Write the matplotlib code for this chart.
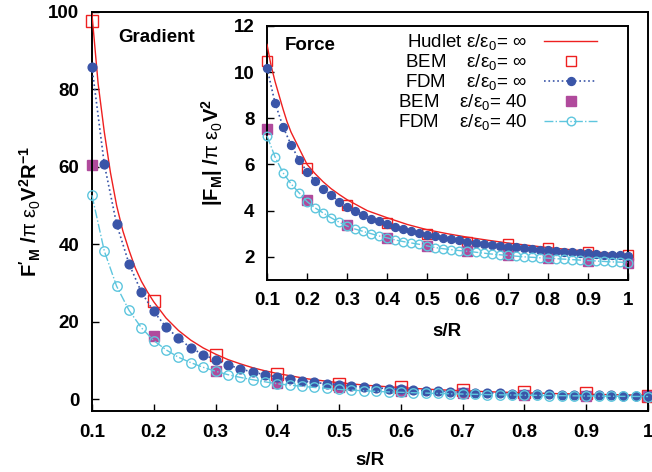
import matplotlib
matplotlib.use("Agg")
import matplotlib.pyplot as plt

plt.rcParams['font.family'] = ['Liberation Sans', 'DejaVu Sans']
plt.rcParams['mathtext.fontset'] = 'custom'
plt.rcParams['mathtext.rm'] = 'Liberation Sans'
plt.rcParams['mathtext.it'] = 'Liberation Sans'
plt.rcParams['mathtext.bf'] = 'Liberation Sans:bold'

# --- data ---
# FDM grid (s/R)
s_fdm = [0.10, 0.12, 0.14, 0.16, 0.18, 0.20, 0.22, 0.24, 0.26, 0.28,
         0.30, 0.32, 0.34, 0.36, 0.38, 0.40, 0.42, 0.44, 0.46, 0.48,
         0.50, 0.52, 0.54, 0.56, 0.58, 0.60, 0.62, 0.64, 0.66, 0.68,
         0.70, 0.72, 0.74, 0.76, 0.78, 0.80, 0.82, 0.84, 0.86, 0.88,
         0.90, 0.92, 0.94, 0.96, 0.98, 1.00]
# BEM grid
s_bem = [0.1, 0.2, 0.3, 0.4, 0.5, 0.6, 0.7, 0.8, 0.9, 1.0]

# Gradient (main panel)
s_hud_grad = [0.10, 0.11, 0.12, 0.13, 0.14, 0.15, 0.16, 0.17, 0.18, 0.19,
              0.20, 0.22, 0.24, 0.26, 0.28, 0.30, 0.32, 0.34, 0.36, 0.38,
              0.40, 0.45, 0.50, 0.55, 0.60, 0.65, 0.70, 0.75, 0.80, 0.85,
              0.90, 0.95, 1.00]
hud_grad = [99.5, 81.5, 69.0, 58.5, 50.0, 43.5, 38.5, 34.0, 30.5, 27.7,
            25.2, 21.0, 17.8, 15.3, 13.3, 11.7, 10.3, 9.2, 8.2, 7.4,
            6.7, 5.3, 4.3, 3.6, 3.05, 2.6, 2.25, 1.95, 1.72, 1.52,
            1.36, 1.22, 1.1]
bem_inf_grad = [97.5, 25.4, 11.6, 6.5, 4.1, 3.2, 2.5, 2.0, 1.6, 1.0]
fdm_inf_grad = [85.8, 60.7, 45.2, 35.0, 27.7, 22.7, 18.7, 15.8, 13.3, 11.6,
                10.2, 8.95, 7.9, 7.05, 6.4, 5.8, 5.2, 4.8, 4.4, 4.05,
                3.8, 3.5, 3.25, 3.0, 2.8, 2.6, 2.45, 2.3, 2.15, 2.0,
                1.9, 1.8, 1.7, 1.6, 1.52, 1.45, 1.38, 1.32, 1.26, 1.2,
                1.15, 1.1, 1.05, 1.0, 0.97, 0.93]
bem_40_grad = [60.6, 16.3, 7.4, 4.3, 3.1, 2.2, 1.6, 1.25, 1.0, 0.8]
fdm_40_grad = [52.7, 38.3, 29.2, 23.0, 18.5, 15.2, 12.8, 10.9, 9.5, 8.3,
               7.3, 6.4, 5.7, 5.1, 4.55, 4.05, 3.7, 3.4, 3.1, 2.85,
               2.6, 2.4, 2.25, 2.1, 1.95, 1.85, 1.75, 1.65, 1.55, 1.47,
               1.4, 1.33, 1.27, 1.21, 1.16, 1.11, 1.06, 1.02, 0.98, 0.94,
               0.9, 0.87, 0.84, 0.81, 0.78, 0.75]

# Force (inset)
s_hud_force = [0.10, 0.11, 0.12, 0.13, 0.14, 0.15, 0.16, 0.18, 0.20, 0.22,
               0.24, 0.26, 0.28, 0.30, 0.35, 0.40, 0.45, 0.50, 0.55, 0.60,
               0.65, 0.70, 0.75, 0.80, 0.85, 0.90, 0.95, 1.00]
hud_force = [11.2, 10.3, 9.6, 9.0, 8.4, 7.85, 7.4, 6.7, 6.0, 5.6,
             5.25, 4.95, 4.7, 4.47, 4.0, 3.69, 3.4, 3.17, 3.0, 2.85,
             2.72, 2.6, 2.5, 2.4, 2.32, 2.24, 2.16, 2.1]
bem_inf_force = [10.5, 5.85, 4.25, 3.45, 3.0, 2.65, 2.55, 2.4, 2.2, 2.1]
fdm_inf_force = [10.18, 8.67, 7.63, 6.85, 6.2, 5.68, 5.29, 4.95, 4.68, 4.38,
                 4.16, 3.99, 3.82, 3.65, 3.55, 3.43, 3.3, 3.2, 3.12, 3.04,
                 2.95, 2.88, 2.82, 2.76, 2.71, 2.66, 2.61, 2.56, 2.52, 2.48,
                 2.44, 2.41, 2.37, 2.34, 2.31, 2.28, 2.25, 2.22, 2.2, 2.17,
                 2.15, 2.12, 2.1, 2.08, 2.06, 2.04]
bem_40_force = [7.54, 4.45, 3.38, 2.82, 2.47, 2.27, 2.09, 1.96, 1.84, 1.75]
fdm_40_force = [7.24, 6.33, 5.64, 5.16, 4.77, 4.39, 4.12, 3.9, 3.69, 3.5,
                3.33, 3.2, 3.1, 3.0, 2.9, 2.82, 2.73, 2.66, 2.6, 2.54,
                2.47, 2.4, 2.35, 2.31, 2.27, 2.24, 2.2, 2.16, 2.12, 2.09,
                2.06, 2.03, 2.0, 1.98, 1.96, 1.94, 1.92, 1.9, 1.88, 1.86,
                1.84, 1.82, 1.8, 1.78, 1.77, 1.75]

xticks = [0.1, 0.2, 0.3, 0.4, 0.5, 0.6, 0.7, 0.8, 0.9, 1.0]
xticklabels = ['0.1', '0.2', '0.3', '0.4', '0.5', '0.6', '0.7', '0.8', '0.9', '1']

red = '#ee2020'
blue = '#3a55a8'
purple = '#b04a9c'
cyan = '#5ec6de'


def draw(ax, s_h, hud, bem_inf, fdm_inf, bem_40, fdm_40, ms):
    ax.plot(s_h, hud, '-', color=red, lw=1.0, zorder=3,
            label='Hudlet ε/ε$_0$= ∞')
    ax.plot(s_bem, bem_inf, 's', mfc='none', mec=red, mew=1.0, ms=ms + 2,
            zorder=2, clip_on=False, label='BEM    ε/ε$_0$= ∞')
    ax.plot(s_fdm, fdm_inf, ':', color=blue, lw=1.2, marker='o', ms=ms,
            mfc=blue, mec=blue, zorder=4, clip_on=False,
            label='FDM    ε/ε$_0$= ∞')
    ax.plot(s_bem, bem_40, 's', color=purple, ms=ms + 1, zorder=2,
            clip_on=False, label='BEM    ε/ε$_0$= 40')
    ax.plot(s_fdm, fdm_40, '-.', color=cyan, lw=1.0, marker='o', ms=ms + 0.5,
            mfc='none', mec=cyan, mew=1.0, zorder=5, clip_on=False,
            label='FDM    ε/ε$_0$= 40')
    ax.set_xlim(0.1, 1.0)
    ax.set_xticks(xticks)
    ax.set_xticklabels(xticklabels)
    ax.tick_params(direction='in', length=5, width=1, labelsize=13.5, pad=9,
                   top=False, right=False)
    for lab in ax.get_xticklabels() + ax.get_yticklabels():
        lab.set_fontweight('bold')
    for sp in ax.spines.values():
        sp.set_linewidth(1.4)


fig = plt.figure(figsize=(6.52, 4.72), dpi=100)

ax = fig.add_axes([0.141, 0.129, 0.853, 0.846])
draw(ax, s_hud_grad, hud_grad, bem_inf_grad, fdm_inf_grad, bem_40_grad, fdm_40_grad, 6.3)
ax.set_ylim(-3, 100)
ax.set_yticks([0, 20, 40, 60, 80, 100])
ax.set_xlabel('s/R', fontsize=13.5, fontweight='bold', labelpad=8)
ax.set_ylabel(r"$\mathbf{F'_M}$ $\mathbf{/}\pi$ $\epsilon_0\mathbf{V^2R^{-1}}$",
              fontsize=14.5, labelpad=4)
ax.text(0.047, 0.935, 'Gradient', transform=ax.transAxes, fontsize=13.5,
        fontweight='bold', va='center')

axi = fig.add_axes([0.4095, 0.407, 0.5535, 0.538])
axi.set_zorder(3)
draw(axi, s_hud_force, hud_force, bem_inf_force, fdm_inf_force, bem_40_force, fdm_40_force, 5.7)
axi.set_ylim(1, 12)
axi.set_yticks([2, 4, 6, 8, 10, 12])
axi.set_xlabel('s/R', fontsize=13.5, fontweight='bold', labelpad=10)
axi.set_ylabel(r"$\mathbf{|F_M|}$ $\mathbf{/}\pi$ $\epsilon_0\mathbf{V^2}$",
               fontsize=14.5, labelpad=6)
axi.text(0.05, 0.925, 'Force', transform=axi.transAxes, fontsize=13.5,
         fontweight='bold', va='center')
axi.legend(loc='upper right', bbox_to_anchor=(0.945, 1.02), frameon=False,
           markerfirst=False, fontsize=13.5, handlelength=2.8,
           labelspacing=0.0, handletextpad=0.9, borderaxespad=0.2)

fig.savefig('out.png', dpi=100)
